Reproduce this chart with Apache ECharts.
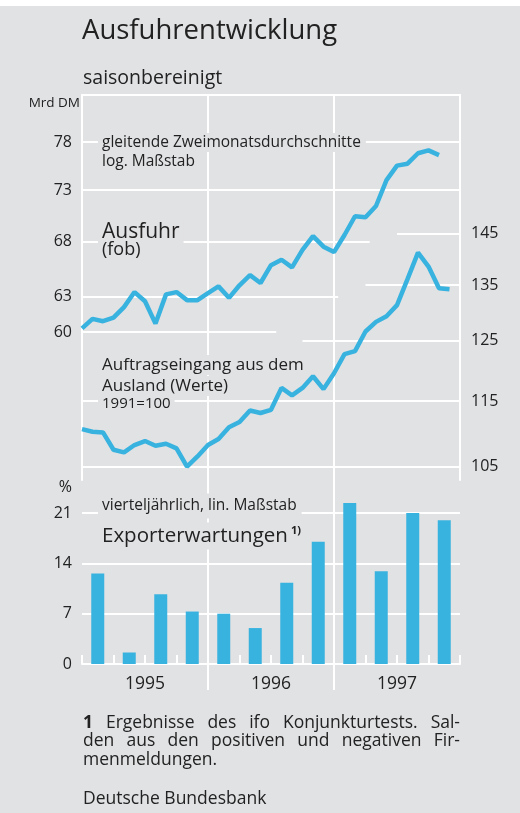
<!DOCTYPE html>
<html>
<head>
<meta charset="utf-8">
<script src="https://cdn.jsdelivr.net/npm/echarts@6/dist/echarts.min.js"></script>
<style>
html, body { margin: 0; padding: 0; background: #e1e2e4; }
#main { width: 520px; height: 813px; }
</style>
</head>
<body>
<div id="main"></div>
<script>
// monthly, Jan 1995 .. Dec 1997 (Ausfuhr ends Nov 1997)
const ausfuhr = [60.3, 61.1, 60.9, 61.2, 62.1, 63.4, 62.6, 60.7, 63.2, 63.4, 62.7, 62.7,
  63.3, 63.9, 62.9, 64.0, 64.9, 64.2, 65.8, 66.3, 65.6, 67.2, 68.5, 67.5,
  67.0, 68.6, 70.4, 70.3, 71.4, 74.0, 75.5, 75.7, 76.8, 77.1, 76.6];
const auftragseingang = [110.6, 110.2, 110.1, 107.5, 107.1, 108.2, 108.8, 108.1, 108.4, 107.7, 105.0, 106.5,
  108.2, 109.1, 110.9, 111.7, 113.5, 113.1, 113.6, 117.1, 115.9, 117.1, 119.0, 116.9,
  119.5, 122.7, 123.2, 126.6, 128.3, 129.3, 131.3, 136.1, 141.2, 138.5, 134.4, 134.2];

// quarterly
const quarters = ['I/95', 'II/95', 'III/95', 'IV/95', 'I/96', 'II/96', 'III/96', 'IV/96', 'I/97', 'II/97', 'III/97', 'IV/97'];
const exporterwartungen = [12.6, 1.6, 9.7, 7.3, 7.0, 5.0, 11.3, 17.0, 22.4, 12.9, 21.0, 20.0];
const years = ['1995', '1996', '1997'];

const leftTicks = [78, 73, 68, 63, 60];
const rightTicks = [145, 135, 125, 115, 105];
const pctTicks = [0, 7, 14, 21];

// where the partial gridlines stop / start (months from Jan 1995)
const leftLineEnd = [36, 36, 27.4, 24.4, 18.5];
const rightLineStart = [30, 27, 21, 0, 0];

const FONT = '"Open Sans", "Noto Sans", sans-serif';
const INK = '#222';
const BLUE = '#38b2df';
const BG = '#e1e2e4';

const lineStyleGrid = { color: '#fff', width: 2, type: 'solid' };

function hLines(ticks, spans, side) {
  return ticks.map((t, i) => {
    const lab = { formatter: String(t) };
    if (side === 'left') return [{ coord: [0, t], value: t, label: lab }, { coord: [spans[i], t] }];
    return [{ coord: [spans[i], t], value: t, label: lab }, { coord: [36, t] }];
  });
}

function markLines(data, pos, dist) {
  return {
    silent: true, z: 1, animation: false,
    symbol: ['none', 'none'],
    lineStyle: lineStyleGrid,
    label: { position: pos, distance: dist, color: INK, fontSize: 16, fontFamily: FONT },
    emphasis: { disabled: true },
    data: data
  };
}

// pad = [top, right, bottom, left]
function txt(text, x, y, size, opts) {
  opts = opts || {};
  const style = {
    text: text, fill: INK, font: (opts.bold ? 'bold ' : '') + size + 'px ' + FONT,
    align: opts.align || 'left', verticalAlign: 'middle'
  };
  let left = 0;
  if (opts.box) {
    const pad = opts.pad || [2, 4, 2, 4];
    style.backgroundColor = BG;
    style.padding = pad;
    left = pad[3];
  }
  return { type: 'text', z: opts.z || 100, x: x - left, y: y, silent: true, style: style };
}

// justified footnote lines
const measure = document.createElement('canvas').getContext('2d');
function justify(words, y, left, width, size) {
  const fonts = words.map(w => (w.b ? 'bold ' : '') + size + 'px ' + FONT);
  const widths = words.map((w, i) => { measure.font = fonts[i]; return measure.measureText(w.t).width; });
  const gap = (width - widths.reduce((a, b) => a + b, 0)) / (words.length - 1);
  let x = left;
  return words.map((w, i) => {
    const el = { type: 'text', z: 100, x: x, y: y, silent: true,
      style: { text: w.t, font: fonts[i], fill: INK, verticalAlign: 'middle' } };
    x += widths[i] + gap;
    return el;
  });
}
const w = s => s.split(' ').map(t => ({ t: t }));

const graphics = [
  { type: 'rect', z: 0, silent: true, shape: { x: 0, y: 0, width: 520, height: 6 }, style: { fill: '#fff' } },
  txt('Ausfuhrentwicklung', 82, 31, 27.5),
  txt('saisonbereinigt', 83, 78, 19.5),
  txt('Mrd DM', 80, 103, 13.5, { align: 'right' }),
  txt('gleitende Zweimonatsdurchschnitte', 102, 142.5, 15.5, { box: true, pad: [2, 5, 1, 4] }),
  txt('log. Maßstab', 102, 161.5, 15.5, { box: true, pad: [2, 4, 3, 4] }),
  txt('Ausfuhr', 102, 232, 21, { box: true }),
  txt('(fob)', 102, 250, 18, { box: true }),
  txt('Auftragseingang aus dem', 102, 365, 17, { box: true, pad: [2, 4, 1, 4] }),
  txt('Ausland (Werte)', 102, 386, 17, { box: true, pad: [2, 4, 1, 4] }),
  txt('1991=100', 102, 404, 15, { box: true }),
  txt('%', 72, 487, 16, { align: 'right' }),
  txt('vierteljährlich, lin. Maßstab', 102, 506, 15.5, { box: true, pad: [3, 5, 6, 4] }),
  txt('Exporterwartungen', 102, 536, 20.5, { box: true, pad: [3, 18, 3, 4] }),
  txt('1)', 291, 531, 11, { bold: true, z: 101 }),
  ...justify([{ t: '1', b: true }].concat(w('Ergebnisse des ifo Konjunkturtests. Sal-')), 723, 83, 377, 17.5),
  ...justify(w('den aus den positiven und negativen Fir-'), 741, 83, 377, 17.5),
  txt('menmeldungen.', 83, 760, 17.5),
  txt('Deutsche Bundesbank', 83, 799, 17.5)
];

const option = {
  backgroundColor: BG,
  animation: false,
  textStyle: { fontFamily: FONT },
  grid: [
    { left: 82, right: 60, top: 95, bottom: 333 },   // lines
    { left: 82, right: 60, top: 480, bottom: 149 },  // bars
    { left: 82, right: 60, top: 95, bottom: 123 }    // year separators
  ],
  xAxis: [
    { gridIndex: 0, type: 'value', min: 0, max: 36, position: 'top',
      axisLine: { show: true, onZero: false, lineStyle: lineStyleGrid },
      axisTick: { show: false }, axisLabel: { show: false }, splitLine: { show: false } },
    { gridIndex: 1, type: 'category', data: quarters, position: 'bottom', boundaryGap: true,
      axisLine: { show: true, onZero: false, lineStyle: lineStyleGrid },
      axisTick: { show: true, inside: true, length: 9, interval: 0, lineStyle: { color: '#fff', width: 2 } },
      axisLabel: { show: false }, splitLine: { show: false } },
    { gridIndex: 1, type: 'category', data: years, position: 'bottom', offset: 0,
      axisLine: { show: false }, axisTick: { show: false },
      axisLabel: { show: true, margin: 11, fontSize: 17.5, color: INK, fontFamily: FONT },
      splitLine: { show: false } },
    { gridIndex: 2, type: 'value', min: 0, max: 36, interval: 12,
      axisLine: { show: false }, axisTick: { show: false }, axisLabel: { show: false },
      splitLine: { show: true, showMinLine: false, showMaxLine: false, lineStyle: lineStyleGrid } }
  ],
  yAxis: [
    { gridIndex: 0, type: 'log', logBase: 10, min: 48.91, max: 83.23, position: 'left',
      axisLine: { show: true, onZero: false, lineStyle: lineStyleGrid },
      axisTick: { show: false }, axisLabel: { show: false }, splitLine: { show: false } },
    { gridIndex: 0, type: 'log', logBase: 10, min: 103.09, max: 175.6, position: 'right',
      axisLine: { show: true, onZero: false, lineStyle: lineStyleGrid },
      axisTick: { show: false }, axisLabel: { show: false }, splitLine: { show: false } },
    { gridIndex: 1, type: 'value', min: 0, max: 25.6,
      axisLine: { show: false }, axisTick: { show: false }, axisLabel: { show: false }, splitLine: { show: false } },
    { gridIndex: 2, type: 'value', show: false }
  ],
  series: [
    {
      name: 'Ausfuhr', type: 'line', xAxisIndex: 0, yAxisIndex: 0,
      data: ausfuhr.map((v, i) => [i, v]),
      symbol: 'none', lineStyle: { color: BLUE, width: 4.5 },
      markLine: markLines(hLines(leftTicks, leftLineEnd, 'left'), 'start', 10)
    },
    {
      name: 'Auftragseingang', type: 'line', xAxisIndex: 0, yAxisIndex: 1,
      data: auftragseingang.map((v, i) => [i, v]),
      symbol: 'none', lineStyle: { color: BLUE, width: 4.5 },
      markLine: markLines(hLines(rightTicks, rightLineStart, 'right'), 'end', 11)
    },
    {
      name: 'Exporterwartungen', type: 'bar', xAxisIndex: 1, yAxisIndex: 2,
      data: exporterwartungen, barWidth: 13,
      itemStyle: { color: BLUE },
      markLine: markLines(pctTicks.map(t => ({ yAxis: t, label: { formatter: String(t) } })), 'start', 10)
    }
  ],
  graphic: graphics
};

const chart = echarts.init(document.getElementById('main'));
chart.setOption(option);
</script>
</body>
</html>
